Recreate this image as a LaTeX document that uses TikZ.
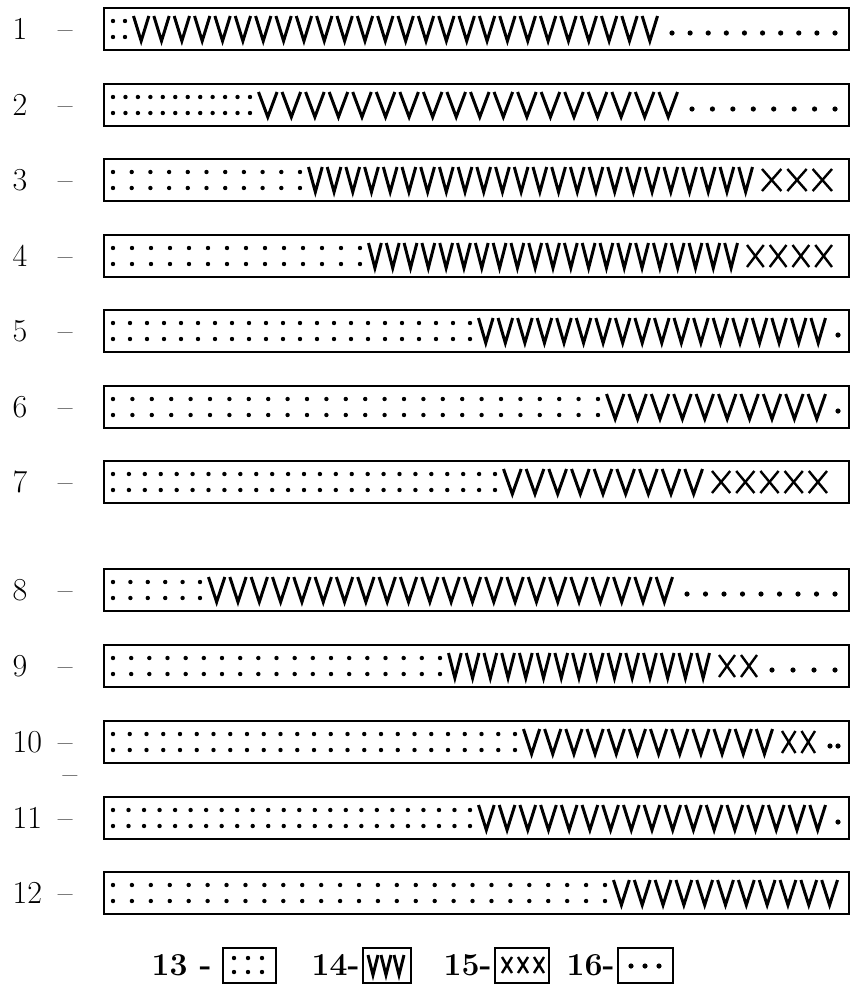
\documentclass[tikz,border=0pt]{standalone}
\usepackage{tikz}
\usetikzlibrary{positioning}

\begin{document}
\begin{tikzpicture}[x=0.5pt, y=-0.5pt,
  bar/.style={draw, line width=1pt, minimum width=372.5pt, minimum height=21pt,
              inner sep=0pt, anchor=west},
  key/.style={bar, minimum height=17.5pt},
  lbl/.style={font=\fontsize{16}{18}\selectfont, inner sep=0pt},
  keylbl/.style={lbl, font=\fontsize{16}{18}\selectfont\bfseries},
  vee/.style={line width=1.5pt, line join=miter},
  cross/.style={line width=1.2pt}]
\useasboundingbox (0,0) rectangle (855,986);

% rows: label / y / dot columns / dots end / V count / V end / X count / X end / trailing dots / trailing end
\foreach \r/\yy/\nd/\de/\nv/\ve/\nx/\xe/\nt/\te in {
   1/29/2/125/26/660/0/660/10/835,
   2/105/12/250/18/680/0/680/8/835,
   3/180/11/300/24/755/3/835/0/835,
   4/256/14/360/21/740/4/835/0/835,
   5/331/22/470/18/828/0/828/1/838,
   6/407/26/598/10/828/0/828/1/838,
   7/482/25/495/9/705/5/830/0/830,
   8/590/6/200/22/675/0/675/9/835,
   9/666/19/440/15/712/2/760/4/835,
   10/742/25/515/12/775/2/818/2/838,
   11/818/24/470/17/828/0/828/1/838,
   12/893/27/605/11/840/0/840/0/840}{
  \node[bar] (b\r) at (103,\yy) {};
  \node[lbl, text width=30pt, left=15pt of b\r.west] (n\r) {\r\hfill--};
  % dotted part
  \pgfmathsetmacro\ds{(\de-113)/(\nd-1)}
  \foreach \k in {1,...,\nd}
    \fill ({113+(\k-1)*\ds},\yy-8) circle[radius=1.1pt]
          ({113+(\k-1)*\ds},\yy+8) circle[radius=1.1pt];
  % V part
  \pgfmathsetmacro\vw{(\ve-\de-6)/\nv}
  \foreach \k in {1,...,\nv}
    \draw[vee] ({\de+6+(\k-1)*\vw+2.5},\yy-13) -- ({\de+6+(\k-0.5)*\vw},\yy+12)
               -- ({\de+6+\k*\vw-2.5},\yy-13);
  % X part
  \ifnum\nx>0
    \pgfmathsetmacro\xw{(\xe-\ve-4)/\nx}
    \foreach \k in {1,...,\nx}{
      \draw[cross] ({\ve+4+(\k-1)*\xw+3},\yy-11) -- ({\ve+4+\k*\xw-3},\yy+11);
      \draw[cross] ({\ve+4+(\k-1)*\xw+3},\yy+11) -- ({\ve+4+\k*\xw-3},\yy-11);
    }
  \fi
  % trailing dots
  \ifnum\nt=1
    \fill (\te,\yy+4) circle[radius=1.3pt];
  \fi
  \ifnum\nt>1
    \pgfmathsetmacro\ts{(\te-\xe-12)/(\nt-1)}
    \foreach \k in {1,...,\nt}
      \fill ({\xe+12+(\k-1)*\ts},\yy+4) circle[radius=1.3pt];
  \fi
}
\node[lbl] (stray) at (70,780) {--};

% legend
\node[key, minimum width=26.5pt] (k13) at (222,965) {};
\node[key, minimum width=24pt] (k14) at (362,965) {};
\node[key, minimum width=27pt] (k15) at (494,965) {};
\node[key, minimum width=27.5pt] (k16) at (617,965) {};
\node[keylbl, left=5pt of k13.west] (n13) {13 -};
\node[keylbl, left=1pt of k14.west] (n14) {14-};
\node[keylbl, left=1pt of k15.west] (n15) {15-};
\node[keylbl, left=1pt of k16.west] (n16) {16-};
\foreach \xx in {234,248,262}
  \fill (\xx,958) circle[radius=1.1pt] (\xx,972) circle[radius=1.1pt];
\foreach \xx in {367,380,393}
  \draw[vee] (\xx+1,955) -- (\xx+6,975) -- (\xx+11,955);
\foreach \xx in {502,518,534}{
  \draw[cross] (\xx,957) -- (\xx+10,973);
  \draw[cross] (\xx,973) -- (\xx+10,957);
}
\foreach \xx in {631,645,659}
  \fill (\xx,966) circle[radius=1.3pt];
\end{tikzpicture}
\end{document}
